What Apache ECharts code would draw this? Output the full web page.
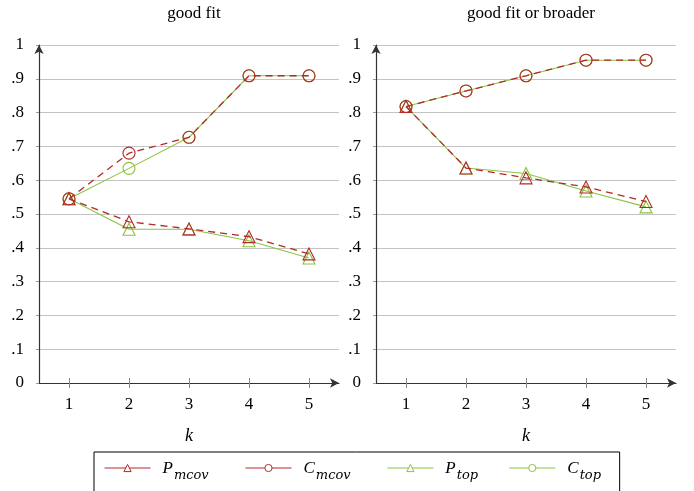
<!DOCTYPE html>
<html><head><meta charset="utf-8">
<script src="https://cdn.jsdelivr.net/npm/echarts@6/dist/echarts.min.js"></script>
<style>html,body{margin:0;padding:0;background:#fff}#c{width:694px;height:491px}</style>
</head><body><div id="c"></div>
<script>
const categories = ['1', '2', '3', '4', '5'];
const yTickLabels = ['0', '.1', '.2', '.3', '.4', '.5', '.6', '.7', '.8', '.9', '1'];
const titles = ['good fit', 'good fit or broader'];
const xName = 'k';

// left panel: good fit
const leftPmcov = [0.545, 0.477, 0.456, 0.433, 0.382];
const leftCmcov = [0.545, 0.680, 0.727, 0.909, 0.909];
const leftPtop  = [0.545, 0.455, 0.455, 0.421, 0.370];
const leftCtop  = [0.545, 0.635, 0.727, 0.909, 0.909];
// right panel: good fit or broader
const rightPmcov = [0.818, 0.636, 0.607, 0.580, 0.537];
const rightCmcov = [0.818, 0.864, 0.909, 0.955, 0.955];
const rightPtop  = [0.818, 0.636, 0.620, 0.568, 0.521];
const rightCtop  = [0.818, 0.864, 0.909, 0.955, 0.955];

const RED = '#b22a2a', GREEN = '#8cc43f';
const SERIF = '"Liberation Serif", "DejaVu Serif", serif';
const grids = [{left: 39, top: 45, width: 300, height: 338}, {left: 376, top: 45, width: 300, height: 338}];

const chart = echarts.init(document.getElementById('c'), null, {renderer: 'canvas'});
const xAxes = [], yAxes = [];
grids.forEach((g, i) => {
  xAxes.push({
    type: 'category', gridIndex: i, data: categories, boundaryGap: true,
    name: xName, nameLocation: 'middle', nameGap: 44,
    nameTextStyle: {fontFamily: SERIF, fontStyle: 'italic', fontSize: 18, color: '#000'},
    axisLine: {show: true, lineStyle: {color: '#333', width: 1.2}, symbol: ['none', 'arrow'], symbolSize: [7, 9]},
    axisTick: {show: true, interval: 0, alignWithLabel: true, length: 5, lineStyle: {color: '#888', width: 1}},
    axisLabel: {show: true, interval: 0, fontFamily: SERIF, fontSize: 17, color: '#000', margin: 13},
    splitLine: {show: false}
  });
  xAxes.push({
    type: 'category', gridIndex: i, data: categories, boundaryGap: true, position: 'bottom',
    axisLine: {show: false}, axisLabel: {show: false},
    axisTick: {show: true, interval: 0, alignWithLabel: true, inside: true, length: 5, lineStyle: {color: '#888', width: 1}},
    splitLine: {show: false}
  });
  yAxes.push({
    type: 'value', gridIndex: i, min: 0, max: 1, interval: 0.1,
    axisLine: {show: true, lineStyle: {color: '#333', width: 1.2}, symbol: ['none', 'arrow'], symbolSize: [7, 9]},
    axisTick: {show: true, length: 3, lineStyle: {color: '#999', width: 1}},
    axisLabel: {show: true, fontFamily: SERIF, fontSize: 17, color: '#000', margin: 15,
      formatter: v => yTickLabels[Math.round(v * 10)]},
    splitLine: {show: true, lineStyle: {color: '#c4c4c4', width: 1}}
  });
});

function mk(name, data, gi, color, dashed, symbol, z) {
  return {
    name, type: 'line', xAxisIndex: gi * 2, yAxisIndex: gi, data,
    symbol, symbolSize: 12,
    lineStyle: {color, width: dashed ? 1.3 : 1.1, type: dashed ? [7, 5] : 'solid'},
    itemStyle: {color: 'rgba(255,255,255,0)', borderColor: color, borderWidth: 1.1},
    z, animation: false
  };
}
const series = [
  mk('Pmcov', leftPmcov, 0, RED, true, 'triangle', 4),
  mk('Cmcov', leftCmcov, 0, RED, true, 'circle', 4),
  mk('Ptop', leftPtop, 0, GREEN, false, 'triangle', 3),
  mk('Ctop', leftCtop, 0, GREEN, false, 'circle', 3),
  mk('Pmcov', rightPmcov, 1, RED, true, 'triangle', 4),
  mk('Cmcov', rightCmcov, 1, RED, true, 'circle', 4),
  mk('Ptop', rightPtop, 1, GREEN, false, 'triangle', 3),
  mk('Ctop', rightCtop, 1, GREEN, false, 'circle', 3)
];
const legendColors = {Pmcov: RED, Cmcov: RED, Ptop: GREEN, Ctop: GREEN};
const legendLabels = {Pmcov: ['P', 'mcov', 'sm'], Cmcov: ['C', 'mcov', 'sm'], Ptop: ['P', 'top', 'st'], Ctop: ['C', 'top', 'st']};
const subStyle = {fontFamily: '"DejaVu Serif", serif', fontStyle: 'italic', fontSize: 13, color: '#000',
  verticalAlign: 'bottom', lineHeight: 18, padding: [0, 0, -5, 1]};

chart.setOption({
  animation: false,
  title: titles.map((t, i) => ({
    text: t, left: grids[i].left + grids[i].width / 2, top: 0, textAlign: 'center',
    textStyle: {fontFamily: SERIF, fontSize: 17, fontWeight: 'normal', color: '#000'}
  })),
  grid: grids,
  xAxis: xAxes,
  yAxis: yAxes,
  legend: {
    data: ['Pmcov', 'Cmcov', 'Ptop', 'Ctop'].map(n => ({
      name: n, lineStyle: {type: 'solid', width: 1.1, color: legendColors[n]},
      itemStyle: {color: '#fff', borderColor: legendColors[n], borderWidth: 1}
    })),
    left: 94, top: 452, orient: 'horizontal',
    padding: [8, 8, 22, 10], itemWidth: 46, itemHeight: 9, itemGap: 20,
    borderColor: '#000', borderWidth: 1, borderRadius: 0,
    formatter: n => '{g|}{i|' + legendLabels[n][0] + '}{' + legendLabels[n][2] + '|' + legendLabels[n][1] + '}',
    textStyle: {
      fontFamily: SERIF, color: '#000',
      rich: {
        g: {width: 7},
        i: {fontFamily: SERIF, fontStyle: 'italic', fontSize: 17, color: '#000', verticalAlign: 'bottom', lineHeight: 18},
        sm: Object.assign({}, subStyle, {width: 51}),
        st: Object.assign({}, subStyle, {width: 32})
      }
    }
  },
  series
});
</script></body></html>
